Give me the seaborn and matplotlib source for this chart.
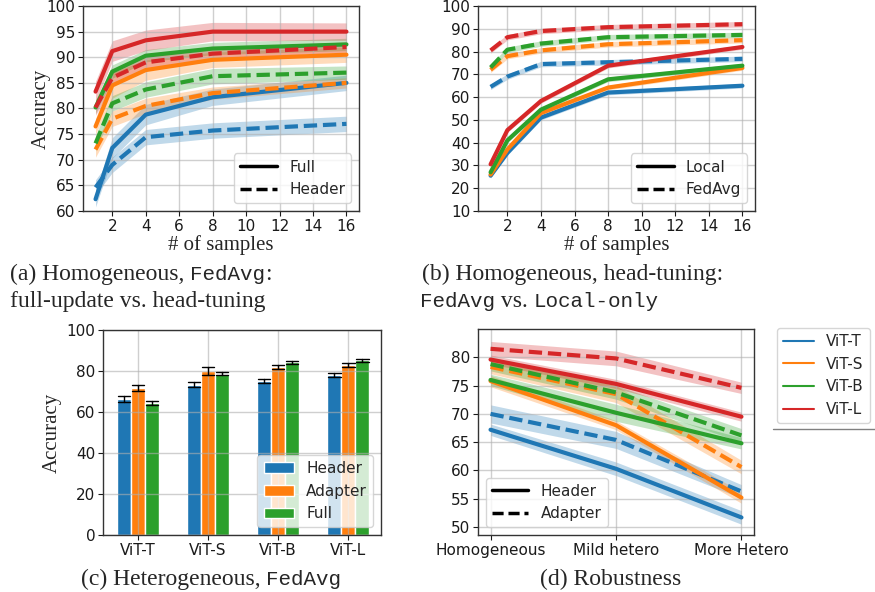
import matplotlib
matplotlib.use("Agg")
import matplotlib.pyplot as plt
from matplotlib.lines import Line2D
import pandas as pd
import seaborn as sns

W, H = 875, 592

models = ["ViT-T", "ViT-S", "ViT-B", "ViT-L"]
samples = [1, 2, 4, 8, 16]
settings = ["Homogeneous", "Mild hetero", "More Hetero"]

# (a) homogeneous FedAvg, full update vs head tuning
a_full = {
    "ViT-T": [62.3, 72.3, 78.8, 82.2, 85.0],
    "ViT-S": [76.5, 84.5, 87.5, 89.5, 90.5],
    "ViT-B": [80.2, 87.2, 90.3, 91.7, 92.5],
    "ViT-L": [83.3, 91.2, 93.3, 95.0, 95.0],
}
a_full_err = {
    "ViT-T": [1.5, 2.0, 2.0, 1.6, 1.5],
    "ViT-S": [1.5, 2.5, 2.0, 1.5, 1.5],
    "ViT-B": [1.2, 1.3, 1.2, 1.2, 1.2],
    "ViT-L": [2.0, 2.0, 2.0, 1.8, 1.7],
}
a_head = {
    "ViT-T": [64.6, 69.0, 74.4, 75.7, 77.0],
    "ViT-S": [72.0, 78.0, 80.5, 83.0, 85.0],
    "ViT-B": [73.2, 81.0, 83.7, 86.3, 87.0],
    "ViT-L": [80.2, 86.0, 89.0, 90.7, 92.0],
}
a_head_err = {
    "ViT-T": [1.5, 1.5, 1.5, 1.5, 1.5],
    "ViT-S": [1.5, 1.5, 1.5, 1.2, 1.0],
    "ViT-B": [1.5, 1.5, 1.5, 1.5, 1.3],
    "ViT-L": [1.5, 1.5, 1.2, 1.0, 1.0],
}

# (b) homogeneous head tuning, local-only vs FedAvg
b_local = {
    "ViT-T": [25.5, 35.5, 51.0, 62.0, 65.0],
    "ViT-S": [26.0, 37.0, 53.0, 64.2, 72.8],
    "ViT-B": [27.0, 41.0, 54.5, 67.8, 73.8],
    "ViT-L": [30.5, 45.5, 58.3, 73.8, 82.0],
}
b_local_err = {m: [1.0, 1.0, 1.0, 1.0, 1.0] for m in models}
b_fedavg = {
    "ViT-T": [64.5, 69.0, 74.5, 75.3, 76.8],
    "ViT-S": [72.0, 78.0, 80.5, 83.2, 85.0],
    "ViT-B": [73.0, 80.8, 83.5, 86.3, 87.3],
    "ViT-L": [80.5, 86.3, 89.0, 90.7, 92.0],
}
b_fedavg_err = {m: [1.2, 1.2, 1.2, 1.2, 1.2] for m in models}

# (c) heterogeneous FedAvg
c_methods = ["Header", "Adapter", "Full"]
c_header = [66.3, 73.2, 75.2, 78.2]
c_adapter = [71.8, 80.0, 82.0, 83.0]
c_full = [64.3, 78.7, 84.3, 85.3]
c_header_err = [1.5, 1.2, 1.0, 1.0]
c_adapter_err = [1.5, 2.0, 0.8, 1.0]
c_full_err = [1.0, 0.8, 0.8, 0.7]

# (d) robustness
d_header = {
    "ViT-T": [67.2, 60.3, 51.7],
    "ViT-S": [75.8, 68.0, 55.2],
    "ViT-B": [76.0, 70.2, 64.8],
    "ViT-L": [79.6, 75.3, 69.5],
}
d_header_err = {
    "ViT-T": [1.0, 1.2, 1.2],
    "ViT-S": [1.0, 0.8, 1.0],
    "ViT-B": [1.0, 1.5, 1.0],
    "ViT-L": [0.8, 0.8, 0.8],
}
d_adapter = {
    "ViT-T": [70.0, 65.4, 56.3],
    "ViT-S": [78.3, 73.5, 60.6],
    "ViT-B": [78.8, 73.8, 66.2],
    "ViT-L": [81.5, 79.8, 74.6],
}
d_adapter_err = {
    "ViT-T": [1.6, 1.5, 1.2],
    "ViT-S": [1.2, 1.5, 1.2],
    "ViT-B": [1.2, 1.2, 1.2],
    "ViT-L": [1.3, 1.3, 1.0],
}


def tidy(xs, means, errs, mode):
    # two points per x (mean -/+ err) -> seaborn band = min..max, line = mean
    rows = []
    for m in means:
        for x, v, e in zip(xs, means[m], errs[m]):
            rows.append({"x": x, "model": m, "mode": mode, "acc": v - e})
            rows.append({"x": x, "model": m, "mode": mode, "acc": v + e})
    return pd.DataFrame(rows)


df_a = pd.concat([tidy(samples, a_full, a_full_err, "Full"),
                  tidy(samples, a_head, a_head_err, "Header")])
df_b = pd.concat([tidy(samples, b_local, b_local_err, "Local"),
                  tidy(samples, b_fedavg, b_fedavg_err, "FedAvg")])
df_d = pd.concat([tidy(settings, d_header, d_header_err, "Header"),
                  tidy(settings, d_adapter, d_adapter_err, "Adapter")])

rows = []
for meth, vals, errs in zip(c_methods, [c_header, c_adapter, c_full],
                            [c_header_err, c_adapter_err, c_full_err]):
    for m, v, e in zip(models, vals, errs):
        rows.append({"model": m, "method": meth, "acc": v - e})
        rows.append({"model": m, "method": meth, "acc": v + e})
df_c = pd.DataFrame(rows)

# %%
sns.set_style("ticks")
plt.rcParams.update({
    "font.family": ["DejaVu Sans"],
    "font.size": 11,
    "axes.edgecolor": "0.2",
    "axes.linewidth": 1.0,
    "grid.color": "#b0b0b0",
    "grid.alpha": 0.6,
    "grid.linewidth": 1.0,
    "xtick.major.pad": 2,
    "ytick.major.pad": 2,
    "xtick.color": "0.1",
    "ytick.color": "0.1",
})
palette = dict(zip(models, sns.color_palette("tab10", 4)))
DASH = (3.2, 1.4)

fig = plt.figure(figsize=(W / 100, H / 100), dpi=100)


def add_ax(l, t, r, b):
    return fig.add_axes([l / W, 1 - b / H, (r - l) / W, (b - t) / H])


ax_a = add_ax(83, 6, 359, 211)
ax_b = add_ax(478, 6, 755, 211)
ax_c = add_ax(103, 330, 381, 535)
ax_d = add_ax(478, 329, 754, 535)

line_kw = dict(linewidth=3, errorbar=("pi", 100), err_kws={"alpha": 0.28, "linewidth": 0},
               palette=palette, hue_order=models, legend=False)

# (a)
sns.lineplot(data=df_a, x="x", y="acc", hue="model", style="mode",
             style_order=["Full", "Header"], dashes={"Full": "", "Header": DASH},
             ax=ax_a, **line_kw)
ax_a.set_ylim(60, 100)
ax_a.set_yticks(range(60, 101, 5))
ax_a.set_xticks(range(2, 17, 2))
ax_a.set_xlabel("# of samples", family="Liberation Serif", fontsize=15, labelpad=1)
ax_a.set_ylabel("Accuracy", family="Liberation Serif", fontsize=15)
ax_a.yaxis.set_label_coords(-0.115, 0.5)
ax_a.legend(handles=[Line2D([], [], color="k", lw=2.5),
                     Line2D([], [], color="k", lw=2.5, dashes=DASH)],
            labels=["Full", "Header"], loc="lower right", handlelength=2.4)

# (b)
sns.lineplot(data=df_b, x="x", y="acc", hue="model", style="mode",
             style_order=["Local", "FedAvg"], dashes={"Local": "", "FedAvg": DASH},
             ax=ax_b, **line_kw)
ax_b.set_ylim(10, 100)
ax_b.set_yticks(range(10, 101, 10))
ax_b.set_xticks(range(2, 17, 2))
ax_b.set_xlabel("# of samples", family="Liberation Serif", fontsize=15, labelpad=1)
ax_b.set_ylabel("")
ax_b.legend(handles=[Line2D([], [], color="k", lw=2.5),
                     Line2D([], [], color="k", lw=2.5, dashes=DASH)],
            labels=["Local", "FedAvg"], loc="lower right", handlelength=2.4)

# (c)
sns.barplot(data=df_c, x="model", y="acc", hue="method", order=models,
            hue_order=c_methods, palette=sns.color_palette("tab10", 3),
            saturation=1, width=0.6, errorbar=("pi", 100), capsize=0.55,
            err_kws={"color": "black", "linewidth": 1}, ax=ax_c)
ax_c.set_ylim(0, 100)
ax_c.set_xlim(-0.5, 3.47)
ax_c.set_yticks(range(0, 101, 20))
ax_c.set_xlabel("")
ax_c.set_ylabel("Accuracy", family="Liberation Serif", fontsize=15)
ax_c.yaxis.set_label_coords(-0.15, 0.5)
ax_c.legend(loc="lower right", title=None)

# (d)
sns.lineplot(data=df_d, x="x", y="acc", hue="model", style="mode", sort=False,
             style_order=["Header", "Adapter"], dashes={"Header": "", "Adapter": DASH},
             ax=ax_d, **line_kw)
ax_d.set_ylim(48.6, 85)
ax_d.set_yticks(range(50, 81, 5))
ax_d.set_xlim(-0.1, 2.1)
ax_d.set_xlabel("")
ax_d.set_ylabel("")
ax_d.legend(handles=[Line2D([], [], color="k", lw=2.5),
                     Line2D([], [], color="k", lw=2.5, dashes=DASH)],
            labels=["Header", "Adapter"], loc="lower left", handlelength=2.4)
fig.legend(handles=[Line2D([], [], color=palette[m], lw=1.5) for m in models],
           labels=models, loc="upper left", borderaxespad=0,
           bbox_to_anchor=(777 / W, 1 - 328 / H))
# thin rule under the legend, as in the source figure
fig.add_artist(Line2D([773 / W, 1.0], [1 - 429 / H, 1 - 429 / H], color="0.5", lw=1))

for ax in [ax_a, ax_b, ax_c, ax_d]:
    ax.grid(True)
    ax.set_axisbelow("line")

# captions: serif text with typewriter pieces
SERIF, MONO = "Liberation Serif", "Liberation Mono"
renderer = fig.canvas.get_renderer()


def text_width(s, fam, size):
    t = fig.text(0, 0, s + "|", family=fam, fontsize=size)
    t2 = fig.text(0, 0, "|", family=fam, fontsize=size)
    w = t.get_window_extent(renderer).width - t2.get_window_extent(renderer).width
    t.remove()
    t2.remove()
    return w


def caption(x, y, parts, center=False):
    sizes = {SERIF: 17, MONO: 15}
    widths = [text_width(s, f, sizes[f]) for s, f in parts]
    if center:
        x = x - sum(widths) / 2
    for (s, f), w in zip(parts, widths):
        fig.text(x / W, 1 - y / H, s, family=f, fontsize=sizes[f], va="baseline")
        x += w


caption(10, 280, [("(a) Homogeneous, ", SERIF), ("FedAvg", MONO), (":", SERIF)])
caption(10, 307, [("full-update vs. head-tuning", SERIF)])
caption(422, 280, [("(b) Homogeneous, head-tuning:", SERIF)])
caption(420, 307, [("FedAvg", MONO), (" vs. ", SERIF), ("Local-only", MONO)])
caption(211, 585, [("(c) Heterogeneous, ", SERIF), ("FedAvg", MONO)], center=True)
caption(611, 585, [("(d) Robustness", SERIF)], center=True)

fig.savefig("out.png", dpi=100)
